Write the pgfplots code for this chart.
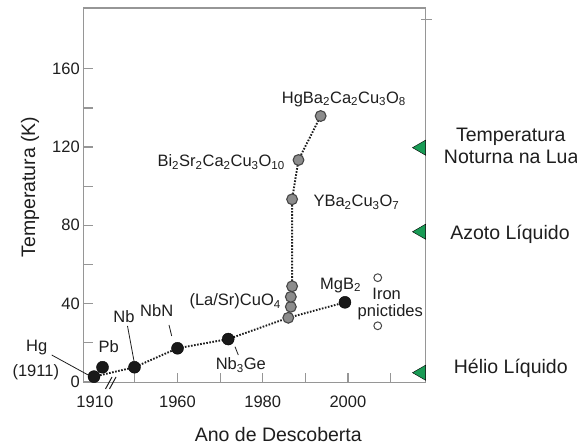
\documentclass[border=0pt]{standalone}
\usepackage{pgfplots}
\pgfplotsset{compat=1.18}
\usepackage{fontspec}
\setmainfont{Liberation Sans}
\definecolor{axgray}{RGB}{150,150,150}
\definecolor{txt}{RGB}{30,30,30}
\definecolor{ptgray}{RGB}{140,140,140}
\definecolor{edgegray}{RGB}{70,70,70}
\definecolor{tri}{RGB}{25,155,85}
\newcommand{\annf}{\fontsize{16.5}{19}\selectfont}
\newcommand{\bigf}{\fontsize{19.5}{22}\selectfont}
\newcommand{\sub}[1]{\textsubscript{#1}}
\begin{document}
\begin{tikzpicture}
\path[use as bounding box] (0,0) rectangle (577pt,446pt);
\begin{axis}[
  at={(83.3pt,63.3pt)}, anchor=south west,
  scale only axis, width=342.4pt, height=374.7pt,
  xmin=1937.89, xmax=2018.26, ymin=-0.51, ymax=191.15,
  clip=false,
  axis line style={axgray, line width=1.2pt},
  tick style={axgray, line width=1.2pt},
  tick align=inside, major tick length=10pt,
  xtick pos=bottom, ytick pos=left,
  xtick={1950,1960,1970,1980,1990,2000,2010},
  xticklabels={,1960,,1980,,2000,},
  extra x ticks={1940.6}, extra x tick labels={1910},
  extra x tick style={major tick length=0pt},
  ytick={0,20,40,60,80,100,120,140,160},
  yticklabels={0,,40,,80,,120,,160},
  ticklabel style={font=\annf, text=txt},
  xticklabel style={yshift=-9.5pt},
  yticklabel style={xshift=0pt},
]
% trend lines
\addplot[txt, line width=1.9pt, dash pattern=on 1.6pt off 1.5pt, mark=none]
  coordinates {(1940.4,2.6) (1949.9,7.4) (1960.0,17.1) (1971.9,21.8) (1986.0,32.7) (1999.3,40.6)};
\addplot[txt, line width=1.9pt, dash pattern=on 1.6pt off 1.5pt, mark=none]
  coordinates {(1986.0,32.7) (1986.6,38.3) (1986.6,43.4) (1986.9,48.8) (1986.9,93.3) (1988.4,113.4) (1993.6,135.9)};
% black conventional superconductors
\addplot[only marks, mark=*, mark size=6pt, mark options={fill=black!90, draw=black}]
  coordinates {(1940.4,2.6) (1942.4,7.4) (1949.9,7.4) (1960.0,17.1) (1971.9,21.8) (1999.3,40.6)};
% cuprates
\addplot[only marks, mark=*, mark size=5.4pt, mark options={fill=ptgray, draw=edgegray, line width=1.1pt}]
  coordinates {(1986.0,32.7) (1986.6,38.3) (1986.6,43.4) (1986.9,48.8) (1986.9,93.3) (1988.4,113.4) (1993.6,135.9)};
% iron pnictides
\addplot[only marks, mark=o, mark size=3.9pt, mark options={fill=white, draw=edgegray, line width=1pt}]
  coordinates {(2007.0,53.2) (2007.0,28.6)};
% reference temperatures
\addplot[only marks, mark=triangle*, mark size=8.7pt, mark options={fill=tri, draw=none, rotate=90}]
  coordinates {(2017.2,119.7) (2017.2,76.7) (2017.2,4.6)};
\end{axis}
% top-right tick
\draw[axgray, line width=1.2pt] (421pt,426.7pt) -- (431.7pt,426.7pt);
% axis break
\draw[txt, line width=1pt] (105.5pt,57pt) -- (112pt,69pt);
\draw[txt, line width=1pt] (109.5pt,57pt) -- (116pt,69pt);
% leader lines
\draw[txt, line width=0.8pt] (51.7pt,91pt) -- (90pt,70pt);
\draw[txt, line width=0.8pt] (127.5pt,120pt) -- (134pt,85pt);
\draw[txt, line width=0.8pt] (169pt,121pt) -- (171.7pt,110pt);
\draw[txt, line width=0.8pt] (235pt,99.3pt) -- (238.3pt,91pt);
% annotations
\begin{scope}[every node/.style={font=\annf, text=txt, inner sep=0pt}]
\node[anchor=base] at (36.7pt,94.3pt) {Hg};
\node[anchor=base] at (35.8pt,69.3pt) {(1911)};
\node[anchor=base] at (108.8pt,93.7pt) {Pb};
\node[anchor=base] at (124pt,123.3pt) {Nb};
\node[anchor=base] at (156.7pt,129.3pt) {NbN};
\node[anchor=base] at (240.8pt,76pt) {Nb\sub{3}Ge};
\node[anchor=base east] at (281pt,140pt) {(La/Sr)CuO\sub{4}};
\node[anchor=base east] at (285pt,279.3pt) {Bi\sub{2}Sr\sub{2}Ca\sub{2}Cu\sub{3}O\sub{10}};
\node[anchor=base west] at (313.3pt,239pt) {YBa\sub{2}Cu\sub{3}O\sub{7}};
\node[anchor=base west] at (281.7pt,342.7pt) {HgBa\sub{2}Ca\sub{2}Cu\sub{3}O\sub{8}};
\node[anchor=base west] at (320pt,156.7pt) {MgB\sub{2}};
\node[anchor=base] at (386.7pt,146pt) {Iron};
\node[anchor=base] at (390.3pt,129.3pt) {pnictides};
\end{scope}
\begin{scope}[every node/.style={font=\bigf, text=txt, inner sep=0pt}]
\node[anchor=base] at (510.8pt,304.3pt) {Temperatura};
\node[anchor=base] at (511.2pt,282.7pt) {Noturna na Lua};
\node[anchor=base] at (510pt,206pt) {Azoto Líquido};
\node[anchor=base] at (510.8pt,72.7pt) {Hélio Líquido};
\node[anchor=base] at (278.3pt,4.3pt) {Ano de Descoberta};
\node[anchor=base, rotate=90] at (35pt,259pt) {Temperatura (K)};
\end{scope}
\end{tikzpicture}
\end{document}
